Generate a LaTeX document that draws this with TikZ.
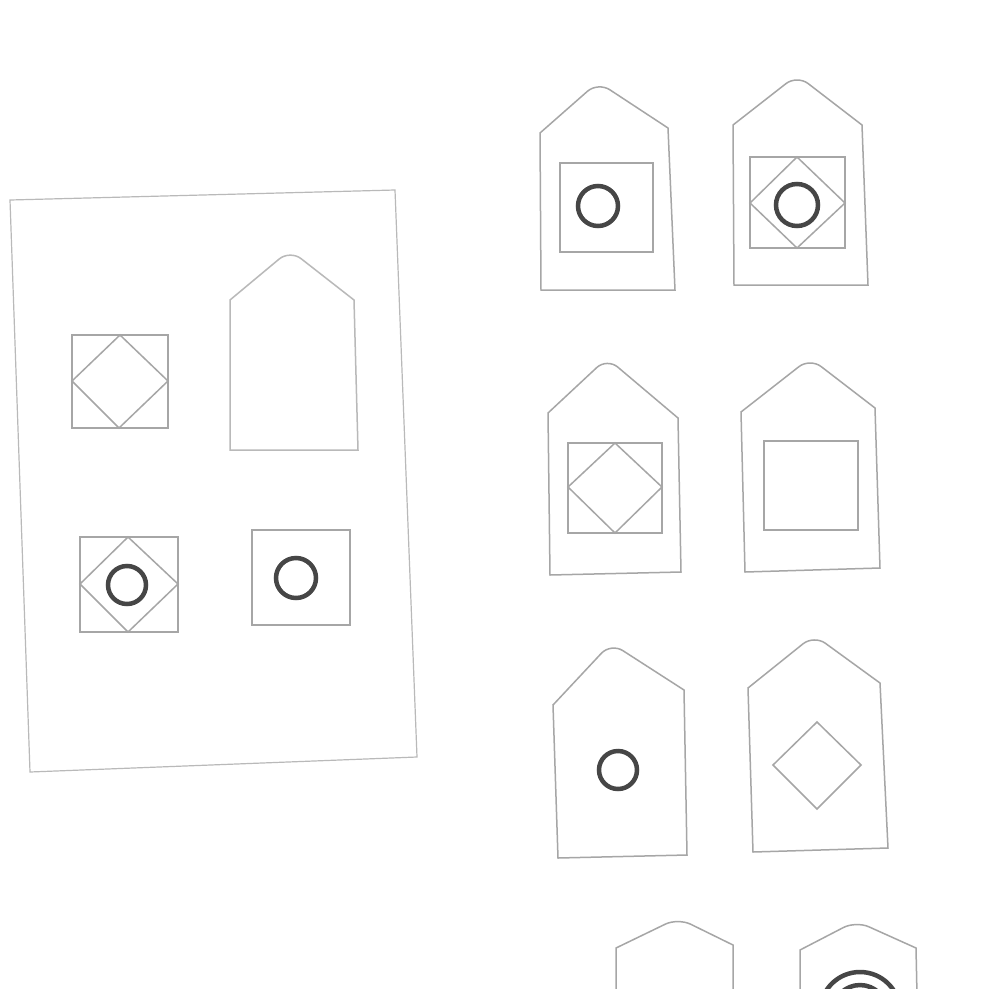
\documentclass[tikz,border=0pt]{standalone}
\begin{document}
\begin{tikzpicture}[x=1pt,y=-1pt,
  ln/.style={draw=gray!70, line width=1.5pt},
  ring/.style={draw=gray!55!black, line width=4.5pt},
  apexr/.style={rounded corners=14pt}]
\useasboundingbox[fill=white] (0,0) rectangle (985,989);
% ---------- question frame ----------
\draw[ln, draw=gray!55, line width=1.2pt] (10,200) -- (395,190) -- (417,757) -- (30,772) -- cycle;
% top-left: square with diamond
\draw[ln] (72,335) rectangle (168,428);
\draw[ln] (120,335) -- (168,381) -- (119,428) -- (72,381) -- cycle;
% top-right: empty house (the missing figure)
\draw[ln, draw=gray!55] (230,450) -- (230,300) [apexr] -- (290,250) [sharp corners] -- (354,300) -- (358,450) -- cycle;
% bottom-left: square, diamond, circle
\draw[ln] (80,537) rectangle (178,632);
\draw[ln] (128,537) -- (178,584) -- (128,632) -- (80,584) -- cycle;
\draw[ring] (127,585) circle (19);
% bottom-right: square with circle
\draw[ln] (252,530) rectangle (350,625);
\draw[ring] (296,578) circle (20);
% ---------- answer options ----------
% A
\draw[ln] (541,290) -- (540,133) [apexr] -- (598,82) [sharp corners] -- (668,128) -- (675,290) -- cycle;
\draw[ln] (560,163) rectangle (653,252);
\draw[ring] (598,206) circle (20);
% B
\draw[ln] (734,285) -- (733,125) [apexr] -- (797,75) [sharp corners] -- (862,125) -- (868,285) -- cycle;
\draw[ln] (750,157) rectangle (845,248);
\draw[ln] (797,157) -- (845,203) -- (797,248) -- (750,203) -- cycle;
\draw[ring] (797,205) circle (21);
% C
\draw[ln] (550,575) -- (548,413) [apexr] -- (607,358) [sharp corners] -- (678,418) -- (681,572) -- cycle;
\draw[ln] (568,443) rectangle (662,533);
\draw[ln] (615,443) -- (662,487) -- (615,533) -- (568,487) -- cycle;
% D
\draw[ln] (745,572) -- (741,412) [apexr] -- (810,358) [sharp corners] -- (875,408) -- (880,568) -- cycle;
\draw[ln] (764,441) rectangle (858,530);
% E
\draw[ln] (558,858) -- (553,705) [apexr] -- (611,643) [sharp corners] -- (684,690) -- (687,855) -- cycle;
\draw[ring] (618,770) circle (19);
% F
\draw[ln] (753,852) -- (748,688) [apexr] -- (814,635) [sharp corners] -- (880,683) -- (888,848) -- cycle;
\draw[ln] (817,722) -- (861,765) -- (817,809) -- (773,765) -- cycle;
% G (cut off)
\draw[ln] (616,995) -- (616,948) [apexr] -- (678,918) [sharp corners] -- (733,945) -- (733,995);
% H (cut off)
\draw[ln] (800,995) -- (800,950) [apexr] -- (856,921) [sharp corners] -- (916,948) -- (917,995);
\draw[ring] (860,1012) circle (40);
\draw[ring] (860,1012) circle (27);
\end{tikzpicture}
\end{document}
